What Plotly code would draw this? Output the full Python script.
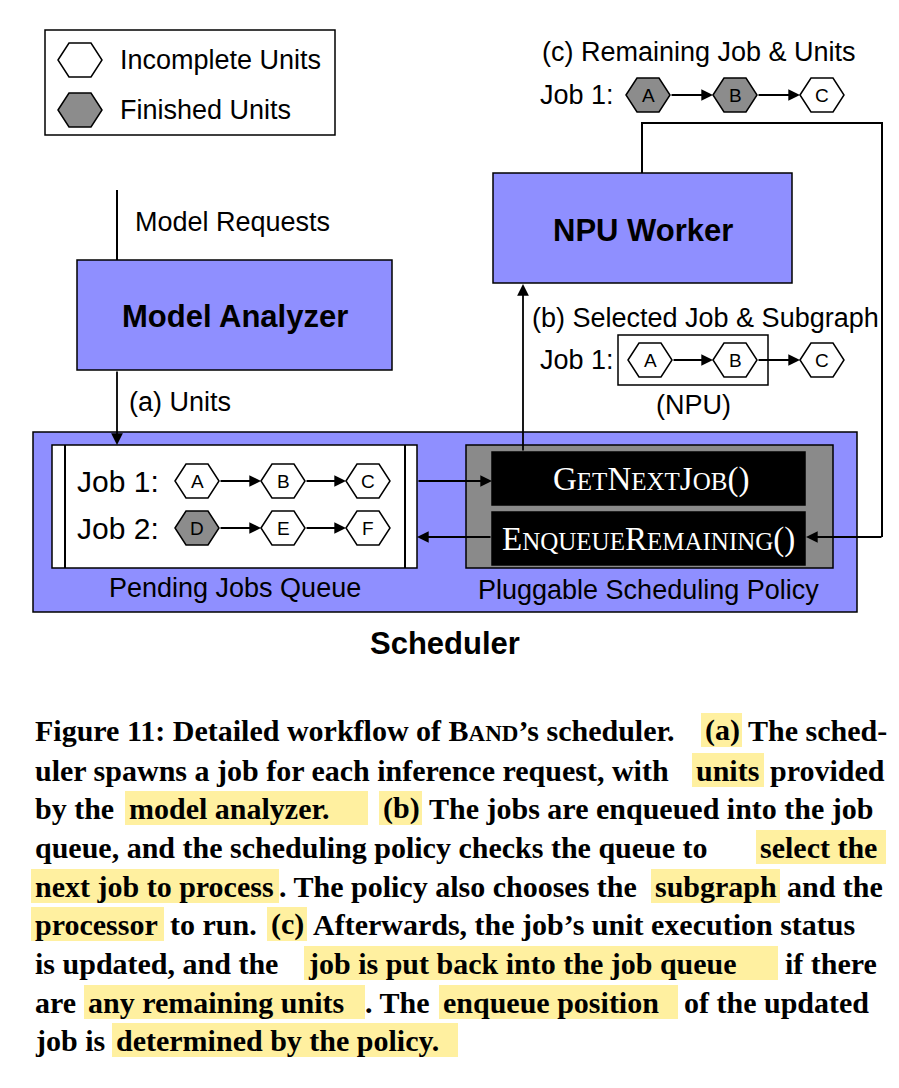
import plotly.graph_objects as go

W, H = 899, 1088
OFF = 8  # browser body margin
PURPLE = "#8f8fff"
HEXGRAY = "#8c8c8c"
YELLOW = "#fff0a0"
SANS = "Liberation Sans, Arial, sans-serif"
SERIF = "Liberation Serif, Times New Roman, serif"

legend_labels = ["Incomplete Units", "Finished Units"]
job1_units = ["A", "B", "C"]
job2_units = ["D", "E", "F"]
job2_done = [True, False, False]
remaining_done = [True, True, False]
box_titles = ["Model Analyzer", "NPU Worker"]

caption_lines = [
    [("Figure 11: Detailed workflow of B<span style='font-size:23px'>AND</span>’s scheduler.", 33, False), ("(a)", 703, True), ("The sched-", 746, False)],
    [("uler spawns a job for each inference request, with", 33, False), ("units", 694, True), ("provided", 768, False)],
    [("by the", 33, False), ("model analyzer.", 127, True), ("(b)", 381, True), ("The jobs are enqueued into the job", 427, False)],
    [("queue, and the scheduling policy checks the queue to", 33, False), ("select the", 758, True)],
    [("next job to process", 33, True), (". The policy also chooses the", 277, False), ("subgraph", 653, True), ("and the", 785, False)],
    [("processor", 33, True), ("to run.", 168, False), ("(c)", 269, True), ("Afterwards, the job’s unit execution status", 311, False)],
    [("is updated, and the", 33, False), ("job is put back into the job queue", 306, True), ("if there", 783, False)],
    [("are", 33, False), ("any remaining units", 86, True), (". The", 363, False), ("enqueue position", 441, True), ("of the updated", 682, False)],
    [("job is", 33, False), ("determined by the policy.", 114, True)],
]
caption_y = [730, 770, 808, 847, 886, 924, 963, 1002, 1040]
highlight_ends = {
    (0, 1): 740, (1, 1): 762, (2, 1): 366, (2, 2): 420, (3, 1): 884,
    (4, 0): 277, (4, 2): 778, (5, 0): 162, (5, 2): 305, (6, 1): 776,
    (7, 1): 363, (7, 3): 676, (8, 1): 456,
}

shapes = []
annos = []


def rect(x0, y0, x1, y1, fill="white", lw=1.5, color="black"):
    shapes.append(dict(type="rect", x0=x0, y0=y0, x1=x1, y1=y1, fillcolor=fill,
                       line=dict(color=color, width=lw), layer="below"))


def text(x, y, s, size=27, anchor="left", font=SANS, color="black", bold=False):
    if bold:
        s = "<b>" + s + "</b>"
    annos.append(dict(x=x, y=y, text=s, showarrow=False, xanchor=anchor, yanchor="middle",
                      font=dict(family=font, size=size, color=color)))


def hexagon(x, y, label, done=False):
    w, h, c = 22, 17, 11
    path = (f"M{x-w},{y} L{x-c},{y-h} L{x+c},{y-h} L{x+w},{y} "
            f"L{x+c},{y+h} L{x-c},{y+h} Z")
    shapes.append(dict(type="path", path=path, fillcolor=HEXGRAY if done else "white",
                       line=dict(color="black", width=1.5)))
    if label:
        text(x, y, label, size=19, anchor="center")


def arrow(x0, y0, x1, y1):
    annos.append(dict(x=x1, y=y1, ax=x0, ay=y0, xref="x", yref="y", axref="x", ayref="y",
                      text="", showarrow=True, arrowhead=2, arrowsize=1.3, arrowwidth=1.8,
                      arrowcolor="black", standoff=0))


def line(x0, y0, x1, y1):
    shapes.append(dict(type="line", x0=x0, y0=y0, x1=x1, y1=y1, line=dict(color="black", width=2)))


def chain(xs, y, labels, done):
    for i, (x, lab, d) in enumerate(zip(xs, labels, done)):
        hexagon(x, y, lab, d)
        if i < len(xs) - 1:
            arrow(x + 22, y, xs[i + 1] - 22, y)


# legend
rect(45, 30, 335, 135)
hexagon(80, 60, "")
hexagon(80, 110, "", True)
text(118, 60, legend_labels[0])
text(118, 110, legend_labels[1])

# remaining job
text(540, 52, "(c) Remaining Job &amp; Units")
text(538, 95, "Job 1:")
chain([648, 735, 822], 95, job1_units, remaining_done)

# loop back line
line(642, 173, 642, 123)
line(641, 123, 882, 123)
line(882, 122, 882, 537)
arrow(883, 537, 806, 537)

# boxes
rect(493, 173, 792, 283, PURPLE)
text(643, 230, box_titles[1], size=31, anchor="center", bold=True)
line(117, 190, 117, 260)
text(133, 222, "Model Requests")
rect(77, 260, 392, 370, PURPLE)
text(235, 316, box_titles[0], size=31, anchor="center", bold=True)
arrow(117, 370, 117, 445)
text(127, 402, "(a) Units")

# scheduler
rect(33, 432, 857, 612, PURPLE)
rect(52, 445, 417, 568)
line(65, 445, 65, 568)
line(405, 445, 405, 568)
text(75, 481, "Job 1:", size=30)
chain([197, 283, 368], 481, job1_units, [False] * 3)
text(75, 528, "Job 2:", size=30)
chain([197, 283, 368], 528, job2_units, job2_done)
text(235, 588, "Pending Jobs Queue", anchor="center")

rect(466, 445, 833, 568, "#8a8a8a")
rect(492, 452, 805, 505, "black")
rect(492, 512, 805, 565, "black")
sc = "style='font-size:25px'"
text(651, 479, f"G<span {sc}>ET</span>N<span {sc}>EXT</span>J<span {sc}>OB</span>()",
     size=33, anchor="center", font=SERIF, color="white")
text(648, 539, f"E<span {sc}>NQUEUE</span>R<span {sc}>EMAINING</span>()",
     size=33, anchor="center", font=SERIF, color="white")
text(648, 590, "Pluggable Scheduling Policy", anchor="center")
arrow(417, 481, 492, 481)
arrow(492, 537, 417, 537)

# selected job
arrow(523, 452, 523, 284)
text(530, 318, "(b) Selected Job &amp; Subgraph")
text(538, 360, "Job 1:")
rect(618, 335, 768, 385)
chain([650, 735, 822], 360, job1_units, [False] * 3)
text(693, 405, "(NPU)", anchor="center")

text(445, 643, "Scheduler", size=31, anchor="center", bold=True)

# caption
for i, (segs, y) in enumerate(zip(caption_lines, caption_y)):
    for j, (s, x, hl) in enumerate(segs):
        if hl:
            shapes.append(dict(type="rect", x0=x - 2, x1=highlight_ends[(i, j)] + 2,
                               y0=y - 17, y1=y + 17, fillcolor=YELLOW, line=dict(width=0), layer="below"))
        text(x, y, s, size=30, font=SERIF, bold=True)

fig = go.Figure()
fig.update_layout(
    width=W, height=H, margin=dict(l=0, r=0, t=0, b=0),
    paper_bgcolor="white", plot_bgcolor="white",
    xaxis=dict(range=[OFF, W + OFF], visible=False, fixedrange=True),
    yaxis=dict(range=[H + OFF, OFF], visible=False, fixedrange=True),
    shapes=shapes, annotations=annos, showlegend=False,
)
fig.write_html("out.html")
